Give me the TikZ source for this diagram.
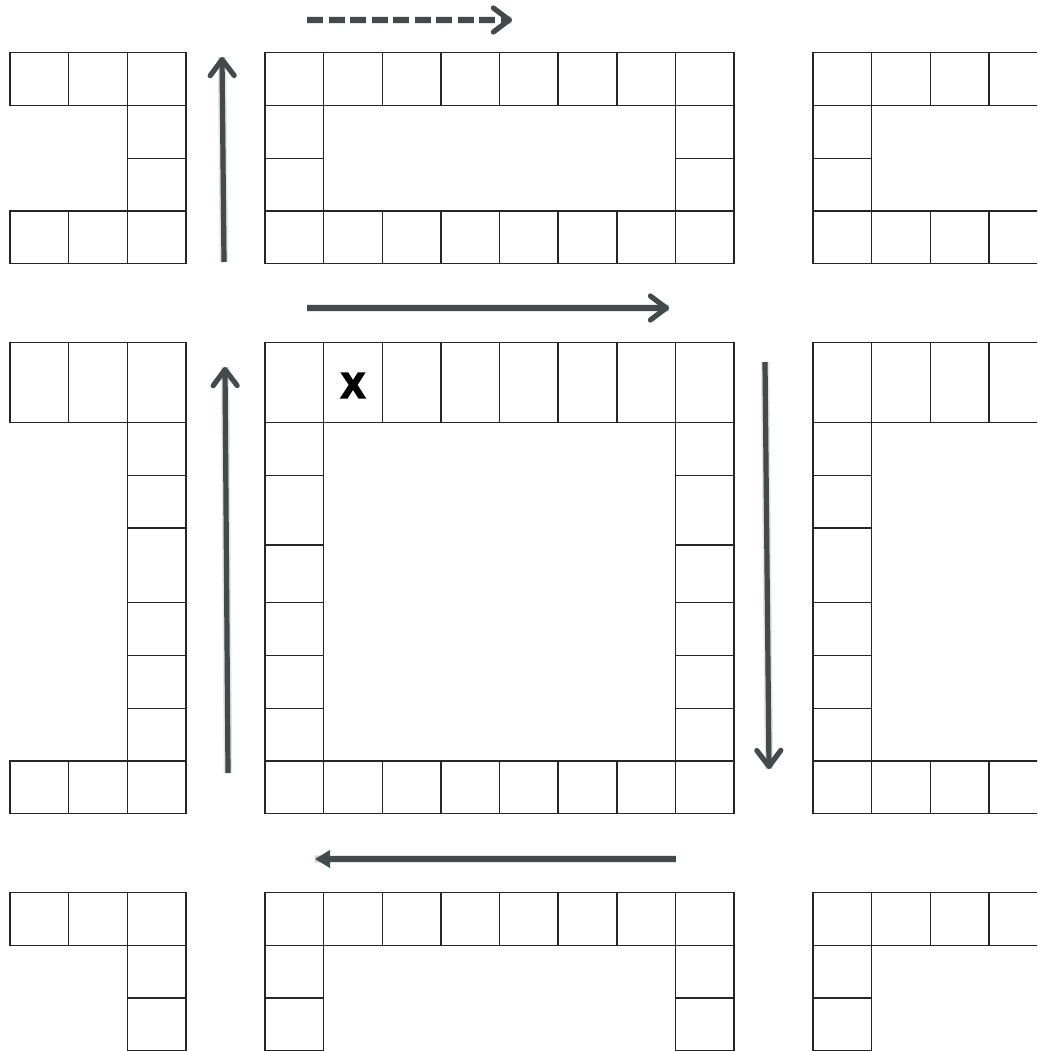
\documentclass[tikz,border=0pt]{standalone}
\usepackage{fontspec}
\setmainfont{Liberation Sans}
\newfontfamily\xfont{Liberation Sans}[BoldFeatures={FakeBold=6}]
\usetikzlibrary{arrows.meta}
\definecolor{arrowgray}{HTML}{434A4C}
\tikzset{
  cell/.style={draw=black!85, line width=1.4pt},
  flowarrow/.style={draw=arrowgray, line width=5.2pt, -{Straight Barb[length=16pt,width=24pt,round]}},
  backarrow/.style={draw=arrowgray, line width=5.2pt, -{Triangle[length=15pt,width=17pt]}},
  dasharrow/.style={flowarrow, dash pattern=on 16pt off 5.5pt},
  shadowline/.style={draw=black, opacity=0.10, line width=8.5pt, shift={(1pt,-3pt)}},
  shadowline2/.style={draw=black, opacity=0.10, line width=5.5pt, shift={(1pt,-3pt)}}
}
% rows of cells for the left, centre and right blocks: #1 = y1, #2 = y2
\newcommand{\Lcells}[2]{%
  \foreach \xa/\xb in {10/68.7,68.7/127.3,127.3/186} {\draw[cell] (\xa,#1) rectangle (\xb,#2);}}
\newcommand{\Ccells}[2]{%
  \foreach \xa/\xb in {265/323.6,323.6/382.2,382.2/440.9,440.9/499.5,499.5/558.1,558.1/616.8,616.8/675.4,675.4/734} {\draw[cell] (\xa,#1) rectangle (\xb,#2);}}
\newcommand{\Rcells}[2]{%
  \foreach \xa/\xb in {813/871.7,871.7/930.3,930.3/989,989/1047.7} {\draw[cell] (\xa,#1) rectangle (\xb,#2);}}
% column of cells: #1 = x1, #2 = x2, #3 = list of y pairs
\newcommand{\cellcol}[3]{%
  \foreach \ya/\yb in {#3} {\draw[cell] (#1,\ya) rectangle (#2,\yb);}}
\begin{document}
\begin{tikzpicture}[x=1pt,y=-1pt]
\useasboundingbox (0,0) rectangle (1037,1051);
\clip (0,0) rectangle (1037,1051);
\fill[white] (0,0) rectangle (1037,1051);
% ---------- top band ----------
\Lcells{52.7}{105.5}
\cellcol{127.3}{186}{105.5/158.3,158.3/211}
\Lcells{211}{263.7}
\Ccells{52.7}{105.5}
\cellcol{265}{323.6}{105.5/158.3,158.3/211}
\cellcol{675.4}{734}{105.5/158.3,158.3/211}
\Ccells{211}{263.7}
\Rcells{52.7}{105.5}
\cellcol{813}{871.7}{105.5/158.3,158.3/211}
\Rcells{211}{263.7}
% ---------- middle band ----------
\Lcells{342.7}{422.7}
\cellcol{127.3}{186}{422.7/475.7,475.7/528,528/602.7,602.7/655.5,655.5/708.3,708.3/761}
\Lcells{761}{813.7}
\Ccells{342.7}{422.7}
\cellcol{265}{323.6}{422.7/475.7,475.7/545,545/602.7,602.7/655.5,655.5/708.3,708.3/761}
\cellcol{675.4}{734}{422.7/475.7,475.7/545,545/602.7,602.7/655.5,655.5/708.3,708.3/761}
\Ccells{761}{813.7}
\Rcells{342.7}{422.7}
\cellcol{813}{871.7}{422.7/475.7,475.7/528,528/602.7,602.7/655.5,655.5/708.3,708.3/761}
\Rcells{761}{813.7}
% ---------- bottom band ----------
\Lcells{892.7}{945.3}
\cellcol{127.3}{186}{945.3/998,998/1050.5}
\Ccells{892.7}{945.3}
\cellcol{265}{323.6}{945.3/998,998/1050.5}
\cellcol{675.4}{734}{945.3/998,998/1050.5}
\Rcells{892.7}{945.3}
\cellcol{813}{871.7}{945.3/998,998/1050.5}
% ---------- X mark ----------
\node[inner sep=0pt, font=\xfont\bfseries\fontsize{35}{35}\selectfont] (xmark) at (353,385.5) {X};
% ---------- arrow end points ----------
\coordinate (d1) at (307,20);   \coordinate (d2) at (512,20);
\coordinate (h1) at (307,308);  \coordinate (h2) at (669,308);
\coordinate (u1) at (224,262);  \coordinate (u2) at (222,57);
\coordinate (v1) at (228,773);  \coordinate (v2) at (225,367);
\coordinate (w1) at (765,362);  \coordinate (w2) at (769,769);
\coordinate (b1) at (676,859);  \coordinate (b2) at (315,859);
% shadows
\foreach \s/\e in {h1/h2,u1/u2,v1/v2,w1/w2,b1/b2} {
  \draw[shadowline] (\s) -- (\e);
  \draw[shadowline2] (\s) -- (\e);
}
\draw[shadowline, dash pattern=on 16pt off 5.5pt] (d1) -- (d2);
% arrows
\draw[dasharrow] (d1) -- (d2);
\draw[flowarrow] (h1) -- (h2);
\draw[flowarrow] (u1) -- (u2);
\draw[flowarrow] (v1) -- (v2);
\draw[flowarrow] (w1) -- (w2);
\draw[backarrow] (b1) -- (b2);
\end{tikzpicture}
\end{document}
